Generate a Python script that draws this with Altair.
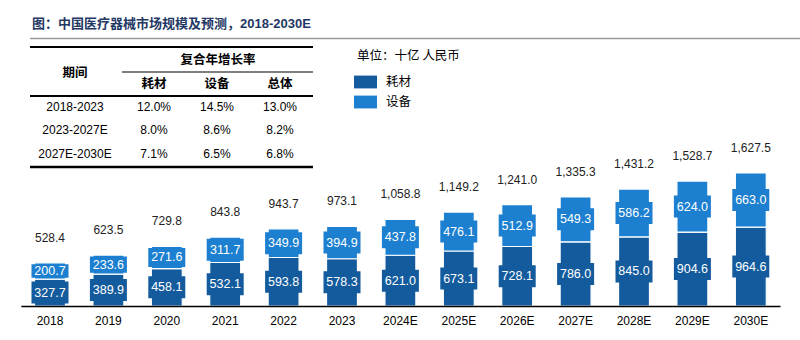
import altair as alt
import pandas as pd

# ---------------- data ----------------
years = ["2018", "2019", "2020", "2021", "2022", "2023", "2024E",
         "2025E", "2026E", "2027E", "2028E", "2029E", "2030E"]
consumables = [327.7, 389.9, 458.1, 532.1, 593.8, 578.3, 621.0,
               673.1, 728.1, 786.0, 845.0, 904.6, 964.6]
equipment = [200.7, 233.6, 271.6, 311.7, 349.9, 394.9, 437.8,
             476.1, 512.9, 549.3, 586.2, 624.0, 663.0]
totals = [528.4, 623.5, 729.8, 843.8, 943.7, 973.1, 1058.8,
          1149.2, 1241.0, 1335.3, 1431.2, 1528.7, 1627.5]

series_names = ["耗材", "设备"]
title_text = "图：中国医疗器械市场规模及预测，2018-2030E"
unit_text = "单位：十亿 人民币"

period_header = "期间"
cagr_header = "复合年增长率"
col_headers = ["耗材", "设备", "总体"]
cagr_periods = ["2018-2023", "2023-2027E", "2027E-2030E"]
cagr_consumables = ["12.0%", "8.0%", "7.1%"]
cagr_equipment = ["14.5%", "8.6%", "6.5%"]
cagr_total = ["13.0%", "8.2%", "6.8%"]

# ---------------- style / layout ----------------
FONT = "Arial, 'Liberation Sans', 'Noto Sans CJK SC', sans-serif"
CJK = "'Noto Sans CJK SC', sans-serif"
COLORS = ["#135b9d", "#1c7fcf"]
W, H = 800, 306
Y_MAX = 3745
PX = H / Y_MAX  # pixels per unit

col_x = [75, 154, 217, 280]
row_y = [107, 130, 154]

# ---------------- frames ----------------
rows = []
for i, yr in enumerate(years):
    c, e = consumables[i], equipment[i]
    rows.append(dict(year=yr, series=series_names[0], lo=0.0, hi=c, val=c))
    rows.append(dict(year=yr, series=series_names[1], lo=c, hi=c + e, val=e))
seg = pd.DataFrame(rows)
seg["mid"] = (seg.lo + seg.hi) / 2
half = ((seg.hi - seg.lo) / 2 - 1.5 / PX).clip(upper=11 / PX)
seg["blo"] = seg.mid - half
seg["bhi"] = seg.mid + half
seg["label"] = seg.val.map(lambda v: f"{v:.1f}")

tot = pd.DataFrame(dict(year=years, total=totals,
                        label=[f"{v:,.1f}" for v in totals]))

cells = []
for i in range(3):
    for j, t in enumerate([cagr_periods[i], cagr_consumables[i],
                           cagr_equipment[i], cagr_total[i]]):
        cells.append(dict(t=t, px=col_x[j], py=row_y[i]))
cells = pd.DataFrame(cells)

heads = [dict(t=period_header, px=col_x[0], py=73),
         dict(t=cagr_header, px=218, py=60)]
for j, t in enumerate(col_headers):
    heads.append(dict(t=t, px=col_x[j + 1], py=84))
heads = pd.DataFrame(heads)

rules = pd.DataFrame(dict(
    x1=[30, 122, 30, 30],
    x2=[313, 313, 313, 313],
    yy=[47, 72, 96, 167],
    w=[2.0, 1.2, 2.0, 2.5],
))

# ---------------- encodings ----------------
xenc = alt.X(
    "year:N", sort=years,
    scale=alt.Scale(domain=years, range=[20.8, 780.0],
                    paddingInner=0.47, paddingOuter=0.235),
    axis=alt.Axis(title=None, labelAngle=0, ticks=False, domainColor="#000000",
                  domainWidth=1.5, labelFontSize=12, labelColor="#000000",
                  labelFont=FONT, labelPadding=9, zindex=1),
)
yscale = alt.Scale(domain=[0, Y_MAX], nice=False, zero=True)
colorenc = alt.Color(
    "series:N",
    scale=alt.Scale(domain=series_names, range=COLORS),
    legend=alt.Legend(
        title=unit_text, orient="none", legendX=357, legendY=50,
        direction="vertical", symbolType="M-1.4,-0.78H1.4V0.78H-1.4Z",
        symbolSize=270, symbolStrokeWidth=0, symbolOpacity=1,
        labelFont=CJK, labelFontSize=12.5, labelColor="#000000",
        titleFont=CJK, titleFontSize=12.5, titleFontWeight="normal",
        titleColor="#000000", labelOffset=12, rowPadding=5,
        titlePadding=11, padding=0,
    ),
)

bars = alt.Chart(seg).mark_bar(stroke="white", strokeWidth=1.2).encode(
    x=xenc, y=alt.Y("lo:Q", scale=yscale, axis=None), y2="hi:Q", color=colorenc)

boxes = alt.Chart(seg).mark_bar(width=37).encode(
    x=xenc, y=alt.Y("blo:Q", scale=yscale, axis=None), y2="bhi:Q", color=colorenc)

seg_labels = alt.Chart(seg).mark_text(color="white", fontSize=12.5, font=FONT,
                                      baseline="middle").encode(
    x=xenc, y=alt.Y("mid:Q", scale=yscale, axis=None), text="label:N")

tot_labels = alt.Chart(tot).mark_text(color="#222222", fontSize=12, font=FONT,
                                      baseline="middle", dy=-25).encode(
    x=xenc, y=alt.Y("total:Q", scale=yscale, axis=None), text="label:N")

title_df = pd.DataFrame(dict(t=[title_text], px=[32], py=[24]))
title = alt.Chart(title_df).mark_text(
    align="left", baseline="middle", fontSize=13, fontWeight="bold",
    color="#1f3864", font=FONT).encode(
    x=alt.X("px:Q", scale=None, axis=None),
    y=alt.Y("py:Q", scale=None, axis=None), text="t:N")

title_line = alt.Chart(title_df).mark_rule(color="#9a9a9a", strokeWidth=1.5).encode(
    x=alt.value(30), x2=alt.value(800), y=alt.value(38.5))

table_rules = alt.Chart(rules).mark_rule(color="#000000").encode(
    x=alt.X("x1:Q", scale=None, axis=None), x2="x2:Q",
    y=alt.Y("yy:Q", scale=None, axis=None),
    size=alt.Size("w:Q", scale=None, legend=None))

table_cells = alt.Chart(cells).mark_text(
    fontSize=12, font=FONT, color="#000000", baseline="middle").encode(
    x=alt.X("px:Q", scale=None, axis=None),
    y=alt.Y("py:Q", scale=None, axis=None), text="t:N")

table_heads = alt.Chart(heads).mark_text(
    fontSize=12.5, font=FONT, fontWeight="bold", color="#000000",
    baseline="middle").encode(
    x=alt.X("px:Q", scale=None, axis=None),
    y=alt.Y("py:Q", scale=None, axis=None), text="t:N")

chart = alt.layer(
    bars, boxes, seg_labels, tot_labels,
    title, title_line, table_rules, table_cells, table_heads,
).properties(
    width=W, height=H,
    autosize=alt.AutoSizeParams(type="none"),
    padding={"left": 0, "right": 0, "top": 0, "bottom": 34},
    background="white",
).configure_view(stroke=None)

chart.save("out.html", embed_options={"renderer": "svg", "actions": False})
